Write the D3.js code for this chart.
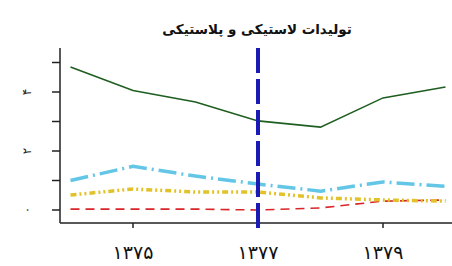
<!DOCTYPE html>
<html lang="fa">
<head>
<meta charset="UTF-8">
<title>تولیدات لاستیکی و پلاستیکی</title>
<script src="https://cdn.jsdelivr.net/npm/d3@7"></script>
<style>
  body { margin: 0; background: #ffffff; }
  svg { display: block; font-family: "DejaVu Sans", sans-serif; }
</style>
</head>
<body>
<div id="chart"></div>
<script>
// data (years in Persian calendar)
const years = [1374, 1375, 1376, 1377, 1378, 1379, 1380];
const greenSeries = [4.85, 4.05, 3.66, 3.02, 2.81, 3.8, 4.17];
const cyanSeries = [1.0, 1.48, 1.15, 0.88, 0.64, 0.95, 0.8];
const goldSeries = [0.51, 0.71, 0.61, 0.61, 0.41, 0.34, 0.3];
const redSeries = [0.03, 0.03, 0.03, 0.0, 0.07, 0.3, 0.34];
const xTicks = [1375, 1377, 1379];
const xTickLabels = ["۱۳۷۵", "۱۳۷۷", "۱۳۷۹"];
const yTicks = [0, 1, 2, 3, 4, 5];
const yTickLabels = { 0: "۰", 2: "۲", 4: "۴" };
const markerYear = 1377;

const width = 452, height = 266;
const svg = d3.select("#chart").append("svg")
    .attr("width", width).attr("height", height);

// scales: 1375 -> 133px, 1379 -> 383px ; 0 -> 210px, 4 -> 92px
const x = d3.scaleLinear().domain([1375, 1379]).range([133, 383]);
const y = d3.scaleLinear().domain([0, 4]).range([210, 92]);

const axLeft = 60, axBottom = 223, axTop = 48;

// title
svg.append("text")
    .attr("x", 257).attr("y", 34)
    .attr("text-anchor", "middle")
    .attr("font-size", 13.5).attr("font-weight", "bold")
    .attr("fill", "#111")
    .text("تولیدات لاستیکی و پلاستیکی");

// axes lines
svg.append("line").attr("x1", axLeft).attr("x2", axLeft).attr("y1", axTop).attr("y2", axBottom)
    .attr("stroke", "#222").attr("stroke-width", 1.5);
svg.append("line").attr("x1", axLeft).attr("x2", width).attr("y1", axBottom).attr("y2", axBottom)
    .attr("stroke", "#222").attr("stroke-width", 1.5);

// y ticks
svg.selectAll(".ytick").data(yTicks).enter().append("line")
    .attr("x1", axLeft - 8).attr("x2", axLeft)
    .attr("y1", d => y(d)).attr("y2", d => y(d))
    .attr("stroke", "#222").attr("stroke-width", 1.5);
svg.selectAll(".ylab").data(yTicks.filter(d => yTickLabels[d])).enter().append("text")
    .attr("transform", d => `translate(31,${y(d)}) rotate(-90)`)
    .attr("text-anchor", "middle")
    .attr("font-size", 12).attr("fill", "#222")
    .text(d => yTickLabels[d]);

// x ticks
svg.selectAll(".xtick").data(xTicks).enter().append("line")
    .attr("x1", d => x(d)).attr("x2", d => x(d))
    .attr("y1", axBottom).attr("y2", axBottom + 5)
    .attr("stroke", "#222").attr("stroke-width", 1.5);
svg.selectAll(".xlab").data(xTicks).enter().append("text")
    .attr("x", d => x(d)).attr("y", 259)
    .attr("text-anchor", "middle")
    .attr("font-size", 19).attr("fill", "#111")
    .text((d, i) => xTickLabels[i]);

const line = d3.line().x((d, i) => x(years[i])).y(d => y(d));

// series
const series = [
  { values: redSeries, color: "#d8262a", width: 1.6, dash: "9,6" },
  { values: goldSeries, color: "#e2c22a", width: 3.5, dash: "6,3,2,3,2,3" },
  { values: cyanSeries, color: "#63c6e6", width: 3.5, dash: "18,5,2,5" },
  { values: greenSeries, color: "#1e5e20", width: 1.6, dash: null }
];
series.forEach(s => {
  svg.append("path")
      .datum(s.values)
      .attr("d", line)
      .attr("fill", "none")
      .attr("stroke", s.color)
      .attr("stroke-width", s.width)
      .attr("stroke-dasharray", s.dash);
});

// vertical marker line
svg.append("line")
    .attr("x1", x(markerYear)).attr("x2", x(markerYear))
    .attr("y1", axTop).attr("y2", axBottom + 5)
    .attr("stroke", "#1a1ab4").attr("stroke-width", 4)
    .attr("stroke-dasharray", "25,6");
</script>
</body>
</html>
